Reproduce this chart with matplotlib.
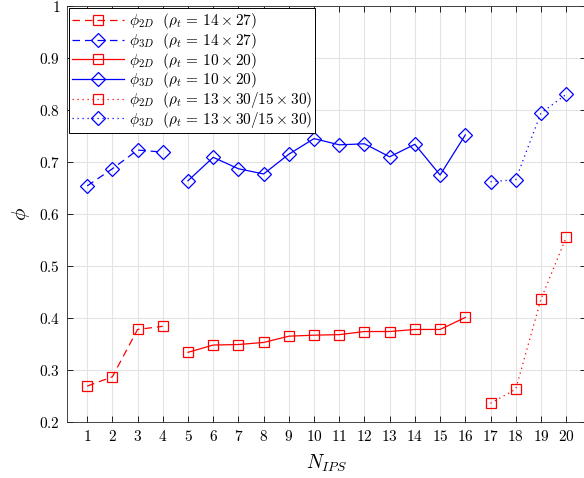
import matplotlib
matplotlib.use("Agg")
import matplotlib.pyplot as plt

plt.rcParams['mathtext.fontset'] = 'cm'
plt.rcParams['font.family'] = ['DejaVu Serif']

# data
x_a = [1, 2, 3, 4]
x_b = [5, 6, 7, 8, 9, 10, 11, 12, 13, 14, 15, 16]
x_c = [17, 18, 19, 20]
phi2d_a = [0.269, 0.287, 0.378, 0.384]
phi3d_a = [0.654, 0.687, 0.723, 0.719]
phi2d_b = [0.334, 0.348, 0.349, 0.353, 0.365, 0.367, 0.368, 0.374, 0.374, 0.378, 0.378, 0.401]
phi3d_b = [0.664, 0.709, 0.687, 0.677, 0.715, 0.745, 0.733, 0.735, 0.710, 0.734, 0.675, 0.752]
phi2d_c = [0.236, 0.263, 0.436, 0.555]
phi3d_c = [0.662, 0.666, 0.794, 0.830]
xticks = list(range(1, 21))
yticks = [0.2, 0.3, 0.4, 0.5, 0.6, 0.7, 0.8, 0.9, 1.0]
ytick_labels = ['0.2', '0.3', '0.4', '0.5', '0.6', '0.7', '0.8', '0.9', '1']

fig = plt.figure(figsize=(5.84, 4.78), dpi=100)
W, H = 584, 478
ax = fig.add_axes([67 / W, 56 / H, 519.3 / W, 416 / H])

lw = 0.9
lab_a = r'\ \ (\rho_t \,=\, 14\times27)$'
lab_b = r'\ \ (\rho_t \,=\, 10\times20)$'
lab_c = r'\ \ (\rho_t \,=\, 13\times30/15\times30)$'
ax.plot(x_a, phi2d_a, color='r', ls=(0, (6, 4)), lw=lw, marker='s', ms=7.5, mfc='none', mew=0.9,
        label=r'$\phi_{2D}' + lab_a)
ax.plot(x_a, phi3d_a, color='b', ls=(0, (6, 4)), lw=lw, marker='D', ms=7.5, mfc='none', mew=0.9,
        label=r'$\phi_{3D}' + lab_a)
ax.plot(x_b, phi2d_b, color='r', ls='-', lw=lw, marker='s', ms=7.5, mfc='none', mew=0.9,
        label=r'$\phi_{2D}' + lab_b)
ax.plot(x_b, phi3d_b, color='b', ls='-', lw=lw, marker='D', ms=7.5, mfc='none', mew=0.9,
        label=r'$\phi_{3D}' + lab_b)
ax.plot(x_c, phi2d_c, color='r', ls=(0, (1, 3)), lw=lw, marker='s', ms=7.5, mfc='none', mew=0.9,
        label=r'$\phi_{2D}' + lab_c)
ax.plot(x_c, phi3d_c, color='b', ls=(0, (1, 3)), lw=lw, marker='D', ms=7.5, mfc='none', mew=0.9,
        label=r'$\phi_{3D}' + lab_c)

ax.set_xlim(0.2, 20.8)
ax.set_ylim(0.2, 1.0)
ax.set_xticks(xticks)
ax.set_xticklabels([f'${v}$' for v in xticks])
ax.set_yticks(yticks)
ax.set_yticklabels([f'${v}$' for v in ytick_labels])
ax.tick_params(direction='in', top=True, right=True, labelsize=11, length=4, width=0.6, pad=5)
ax.grid(True, color='#e3e3e3', lw=0.8)
ax.set_axisbelow(True)
for s in ax.spines.values():
    s.set_linewidth(0.6)
    s.set_color('#262626')

ax.set_xlabel(r'$N_{IPS}$', fontsize=14, labelpad=6)
ax.set_ylabel(r'$\phi$', fontsize=15, labelpad=5)

leg = ax.legend(loc='upper left', fontsize=11.0, frameon=True, fancybox=False, framealpha=1,
                edgecolor='black', borderpad=0.2, labelspacing=-0.02, handlelength=3.4,
                handletextpad=0.3, borderaxespad=0.15)
leg.get_frame().set_linewidth(0.7)

fig.savefig('out.png', dpi=100)
